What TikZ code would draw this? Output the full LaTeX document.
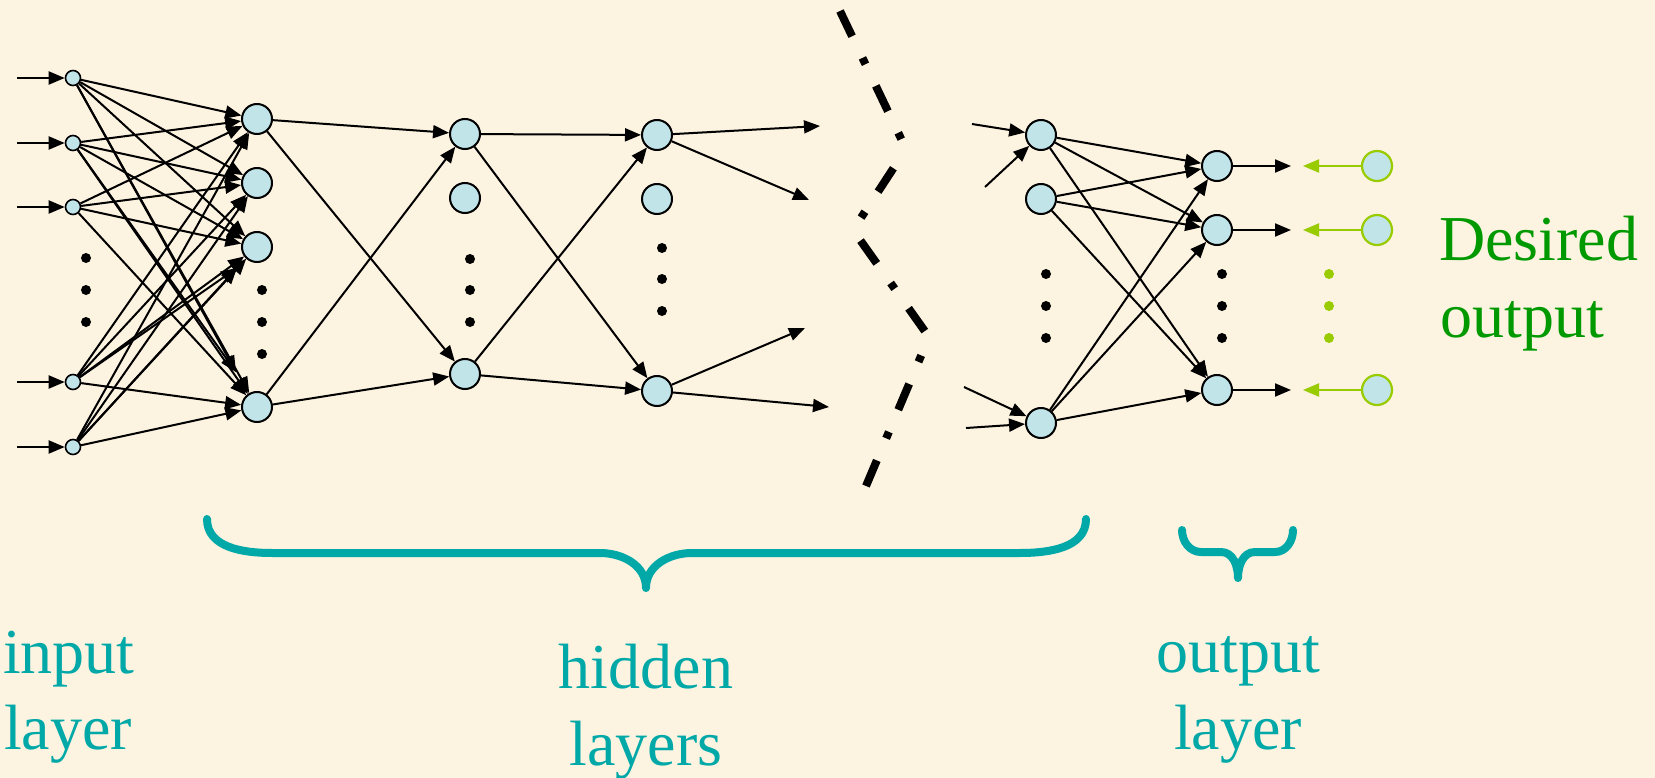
\documentclass[tikz,border=0pt]{standalone}
\usepackage{fontspec}
\setmainfont{Liberation Serif}
\newfontfamily\lblfont{Liberation Serif}
\usetikzlibrary{arrows.meta}
\definecolor{bg}{RGB}{252,243,224}
\definecolor{nodeblue}{RGB}{193,228,232}
\definecolor{teal2}{RGB}{0,168,168}
\definecolor{lime2}{RGB}{153,204,0}
\definecolor{dgreen}{RGB}{0,153,0}
\begin{document}
\begin{tikzpicture}[x=1pt,y=-1pt,
  arr/.style={-{Triangle[length=16pt,width=13pt]}, line width=2pt},
  garr/.style={-{Triangle[length=16pt,width=13pt]}, line width=2pt, draw=lime2, color=lime2},
  inp/.style={circle, draw=black, line width=1.6pt, fill=nodeblue, minimum size=15pt, inner sep=0pt},
  hid/.style={circle, draw=black, line width=2pt, fill=nodeblue, minimum size=30pt, inner sep=0pt},
  gnode/.style={circle, draw=lime2, line width=2.2pt, fill=nodeblue, minimum size=30pt, inner sep=0pt},
  bdot/.style={circle, fill=black, minimum size=10pt, inner sep=0pt},
  gdot/.style={circle, fill=lime2, minimum size=10pt, inner sep=0pt},
  lbl/.style={font=\lblfont\fontsize{64}{76}\selectfont, inner sep=0pt},
  brace/.style={draw=teal2, line width=8pt, line cap=round, line join=round},
  ddash/.style={line width=8pt, dash pattern=on 28pt off 24pt on 7pt off 24pt}
]
\fill[bg] (0,0) rectangle (1655,778);
\useasboundingbox (0,0) rectangle (1655,778);

% input layer
\foreach \i/\y in {1/78,2/143,3/207,4/382,5/447}{
  \node[inp] (I\i) at (73,\y) {};
  \coordinate (s\i) at (17,\y);
}
\foreach \i/\y in {1/258,2/290,3/322}{ \node[bdot] (Id\i) at (86,\y) {}; }

% hidden layer 1
\foreach \i/\y in {1/119,2/183,3/247,4/407}{ \node[hid] (A\i) at (257,\y) {}; }
\foreach \i/\y in {1/290,2/322,3/354}{ \node[bdot] (Ad\i) at (262,\y) {}; }
\coordinate (dA) at (236,372);
\coordinate (dB) at (237,268);

% hidden layer 2
\foreach \i/\y in {1/134,2/198,3/374}{ \node[hid] (B\i) at (465,\y) {}; }
\foreach \i/\y in {1/259,2/290,3/322}{ \node[bdot] (Bd\i) at (470,\y) {}; }

% hidden layer 3
\foreach \i/\y in {1/135,2/199,3/391}{ \node[hid] (C\i) at (657,\y) {}; }
\foreach \i/\y in {1/248,2/279,3/311}{ \node[bdot] (Cd\i) at (662,\y) {}; }
\coordinate (c1a) at (820,126);
\coordinate (c1b) at (809,200);
\coordinate (c3a) at (805,328);
\coordinate (c3b) at (829,407);

% last hidden layer
\foreach \i/\y in {1/135,2/199,3/423}{ \node[hid] (D\i) at (1041,\y) {}; }
\foreach \i/\y in {1/274,2/306,3/338}{ \node[bdot] (Dd\i) at (1046,\y) {}; }
\coordinate (d1a) at (972,124);
\coordinate (d1b) at (985,187);
\coordinate (d3a) at (964,387);
\coordinate (d3b) at (966,428);

% output layer
\foreach \i/\y in {1/166,2/230,3/390}{
  \node[hid] (O\i) at (1217,\y) {};
  \coordinate (t\i) at (1291,\y);
  \node[gnode] (G\i) at (1377,\y) {};
  \coordinate (g\i) at (1303,\y);
}
\foreach \i/\y in {1/274,2/306,3/338}{
  \node[bdot] (Od\i) at (1222,\y) {};
  \node[gdot] (Gd\i) at (1329,\y) {};
}

% connectors
\foreach \i in {1,...,5}{ \draw[arr] (s\i) -- (I\i); }
\foreach \i in {1,...,5}{ \foreach \j in {1,...,4}{ \draw[arr] (I\i) -- (A\j); } }
\draw[arr] (I1) -- (dA);
\draw[arr] (I2) -- (dA);
\draw[arr] (I4) -- (dB);
\draw[arr] (I5) -- (dB);
\foreach \i in {1,4}{ \foreach \j in {1,3}{ \draw[arr] (A\i) -- (B\j); } }
\foreach \i in {1,3}{ \foreach \j in {1,3}{ \draw[arr] (B\i) -- (C\j); } }
\draw[arr] (C1) -- (c1a);
\draw[arr] (C1) -- (c1b);
\draw[arr] (C3) -- (c3a);
\draw[arr] (C3) -- (c3b);
\draw[arr] (d1a) -- (D1);
\draw[arr] (d1b) -- (D1);
\draw[arr] (d3a) -- (D3);
\draw[arr] (d3b) -- (D3);
\foreach \i in {1,2,3}{ \foreach \j in {1,2,3}{ \draw[arr] (D\i) -- (O\j); } }
\foreach \i in {1,2,3}{
  \draw[arr] (O\i) -- (t\i);
  \draw[garr] (G\i) -- (g\i);
}

% dash-dot break line
\coordinate (z0) at (840,11);
\coordinate (z1) at (906,149);
\coordinate (z2) at (853,230);
\coordinate (z3) at (929,337);
\coordinate (z4) at (866,486);
\draw[ddash] (z0) -- (z1);
\draw[ddash, dash phase=60pt] (z1) -- (z2);
\draw[ddash, dash phase=70pt] (z2) -- (z3);
\draw[ddash, dash phase=32pt] (z3) -- (z4);

% braces
\draw[brace] (207,519) to[out=-90,in=180] (272,553) -- (600,553)
  to[out=0,in=90] (646,588) to[out=90,in=180] (692,553) -- (1020,553)
  to[out=0,in=-90] (1086,519);
\draw[brace] (1182,530) to[out=-90,in=180] (1201,552) -- (1221,552)
  to[out=0,in=90] (1238,578) to[out=90,in=180] (1255,552) -- (1275,552)
  to[out=0,in=-90] (1293,530);

% labels
\node[lbl, text=teal2, anchor=base west] (inl1) at (3,673) {input};
\node[lbl, text=teal2, anchor=base west] (inl2) at (4,749) {layer};
\node[lbl, text=teal2, anchor=base] (hl1) at (646,688) {hidden};
\node[lbl, text=teal2, anchor=base] (hl2) at (646,765) {layers};
\node[lbl, text=teal2, anchor=base] (ol1) at (1238,672) {output};
\node[lbl, text=teal2, anchor=base] (ol2) at (1238,749) {layer};
\node[lbl, text=dgreen, anchor=base west] (do1) at (1439,261) {Desired};
\node[lbl, text=dgreen, anchor=base west] (do2) at (1440,337) {output};
\end{tikzpicture}
\end{document}
